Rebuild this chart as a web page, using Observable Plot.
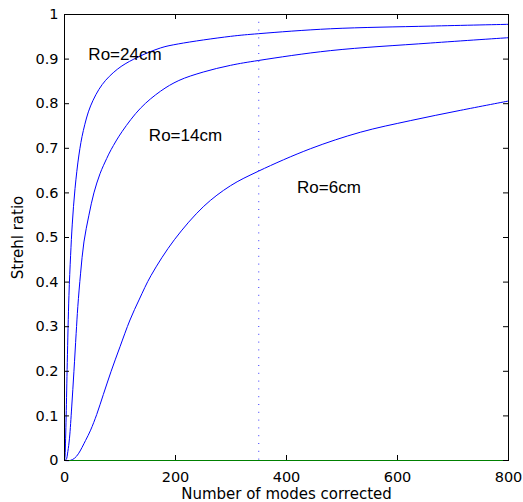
<!DOCTYPE html>
<html>
<head>
<meta charset="utf-8">
<script src="https://cdn.jsdelivr.net/npm/d3@7"></script>
<script src="https://cdn.jsdelivr.net/npm/@observablehq/plot@0.6"></script>
<style>
  html, body { margin: 0; padding: 0; background: white; }
</style>
</head>
<body>
<div id="chart"></div>
<script>
// Tick values
const xTicks = [0, 200, 400, 600, 800];
const yTicks = [0, 0.1, 0.2, 0.3, 0.4, 0.5, 0.6, 0.7, 0.8, 0.9, 1];

// Axis titles
const xTitle = "Number of modes corrected";
const yTitle = "Strehl ratio";

// Series: Ro = 24 cm
const n24 = [0, 1, 2, 3, 5, 8, 11, 14, 19, 26, 34, 47, 68, 95, 125, 173, 205, 299, 350, 479, 659, 800];
const s24 = [0, 0.01, 0.05, 0.1, 0.22, 0.37, 0.46, 0.53, 0.61, 0.685, 0.74, 0.795, 0.843, 0.877, 0.9, 0.925, 0.934, 0.951, 0.957, 0.968, 0.974, 0.978];

// Series: Ro = 14 cm
const n14 = [0, 3, 6, 9, 13, 17, 21, 24, 29, 35, 44, 53, 64, 76, 84, 104, 137, 173, 206, 250, 299, 350, 479, 659, 800];
const s14 = [0, 0.002, 0.02, 0.05, 0.12, 0.2, 0.285, 0.345, 0.42, 0.49, 0.55, 0.6, 0.643, 0.677, 0.697, 0.738, 0.79, 0.828, 0.852, 0.871, 0.886, 0.897, 0.919, 0.936, 0.948];

// Series: Ro = 6 cm
const n6 = [0, 10, 18, 25, 38, 47, 58, 70, 84, 100, 118, 135, 156, 198, 251, 299, 350, 443, 533, 623, 713, 800];
const s6 = [0, 0, 0.005, 0.015, 0.045, 0.068, 0.103, 0.148, 0.2, 0.255, 0.315, 0.362, 0.415, 0.495, 0.57, 0.616, 0.649, 0.699, 0.736, 0.762, 0.785, 0.806];

// Vertical reference line
const refN = [350];

// Curve annotations
const labelText = ["Ro=24cm", "Ro=14cm", "Ro=6cm"];
const labelN = [43, 152, 419];
const labelS = [0.911, 0.728, 0.613];

// Build tables for the library
const series = [
  {name: "Ro=24cm", n: n24, s: s24},
  {name: "Ro=14cm", n: n14, s: s14},
  {name: "Ro=6cm", n: n6, s: s6}
];
const rows = series.flatMap(sr => sr.n.map((n, i) => ({name: sr.name, n, s: sr.s[i]})));
const labels = labelText.map((t, i) => ({text: t, n: labelN[i], s: labelS[i]}));

const W = 523, H = 502, ML = 64, MR = 15, MT = 14, MB = 42;
const xDomain = [0, 800], yDomain = [0, 1];
const frameW = W - ML - MR, frameH = H - MT - MB;
const tickLen = 5;
// tick length expressed in data units of each scale
const tx = tickLen / frameW * (xDomain[1] - xDomain[0]);
const ty = tickLen / frameH * (yDomain[1] - yDomain[0]);
const tickColor = "black";

const chart = Plot.plot({
  width: W,
  height: H,
  marginLeft: ML,
  marginRight: MR,
  marginTop: MT,
  marginBottom: MB,
  x: {domain: xDomain},
  y: {domain: yDomain},
  style: {fontFamily: "DejaVu Sans", background: "white", color: "black"},
  marks: [
    // tick labels
    Plot.axisX(xTicks, {anchor: "bottom", tickSize: 0, tickPadding: 11.5, fontSize: 14.5, label: null, tickFormat: d => String(d)}),
    Plot.axisY(yTicks, {anchor: "left", tickSize: 0, tickPadding: 6, fontSize: 14.5, label: null, tickFormat: d => String(d)}),
    // dotted reference line
    Plot.ruleX(refN, {stroke: "#0000ff", strokeDasharray: "1,6.8", strokeOpacity: 0.8}),
    // curves
    Plot.line(rows, {x: "n", y: "s", z: "name", stroke: "#0000ff", strokeWidth: 1, curve: "catmull-rom"}),
    // box
    Plot.frame({stroke: "black", strokeWidth: 1}),
    // green zero line
    Plot.ruleY([0], {stroke: "#008000", strokeWidth: 1}),
    // inward ticks on all four sides
    Plot.ruleX(xTicks, {x: d => d, y1: yDomain[0], y2: yDomain[0] + ty, stroke: tickColor, strokeWidth: 1}),
    Plot.ruleX(xTicks, {x: d => d, y1: yDomain[1] - ty, y2: yDomain[1], stroke: tickColor, strokeWidth: 1}),
    Plot.ruleY(yTicks, {y: d => d, x1: xDomain[0], x2: xDomain[0] + tx, stroke: tickColor, strokeWidth: 1}),
    Plot.ruleY(yTicks, {y: d => d, x1: xDomain[1] - tx, x2: xDomain[1], stroke: tickColor, strokeWidth: 1}),
    // annotations
    Plot.text(labels, {x: "n", y: "s", text: "text", textAnchor: "start", lineAnchor: "middle", fontSize: 17, fontFamily: "Liberation Sans", fill: "black"}),
    // axis titles
    Plot.text([xTitle], {frameAnchor: "bottom", dy: 33.75, textAnchor: "middle", lineAnchor: "middle", fontSize: 15, fill: "black"}),
    Plot.text([yTitle], {frameAnchor: "left", dx: -46.5, rotate: -90, textAnchor: "middle", lineAnchor: "middle", fontSize: 15, fill: "black"})
  ]
});
document.getElementById("chart").appendChild(chart);
</script>
</body>
</html>
